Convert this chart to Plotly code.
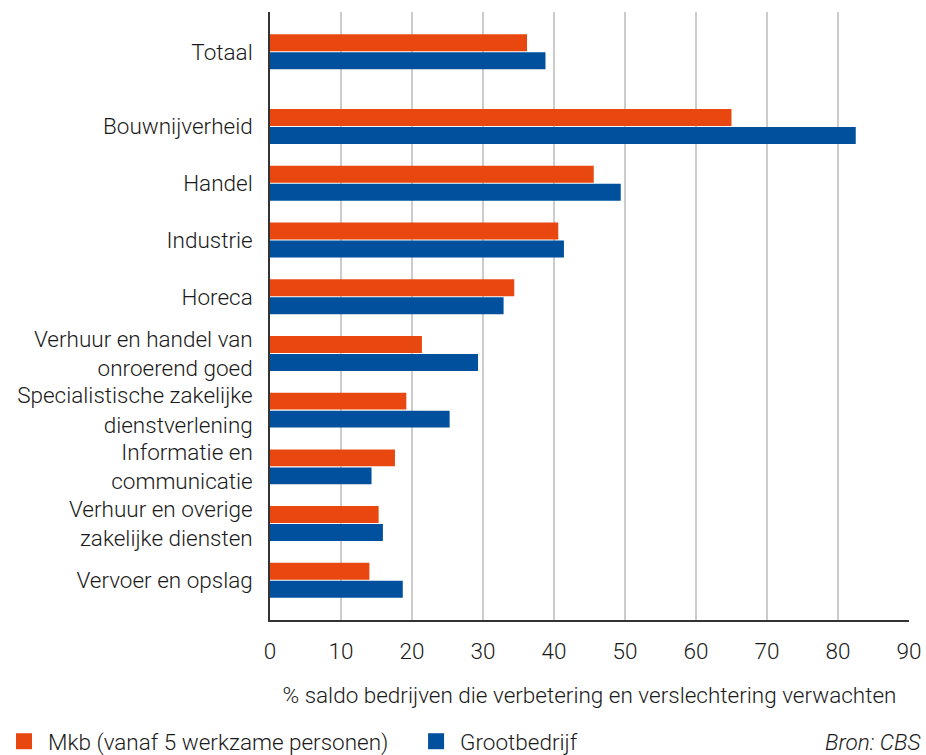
import plotly.graph_objects as go

categories = [
    "Totaal",
    "Bouwnijverheid",
    "Handel",
    "Industrie",
    "Horeca",
    "Verhuur en handel van<br>onroerend goed",
    "Specialistische zakelijke<br>dienstverlening",
    "Informatie en<br>communicatie",
    "Verhuur en overige<br>zakelijke diensten",
    "Vervoer en opslag",
]
mkb = [36.2, 65.0, 45.6, 40.6, 34.4, 21.4, 19.2, 17.6, 15.3, 14.0]
groot = [38.8, 82.5, 49.4, 41.4, 32.9, 29.3, 25.3, 14.3, 15.9, 18.7]
x_ticks = [0, 10, 20, 30, 40, 50, 60, 70, 80, 90]
series_names = ["Mkb (vanaf 5 werkzame personen)", "Grootbedrijf"]

# layout: Totaal separated from the sectors by an extra gap
positions = [0] + [1.32 + i for i in range(len(categories) - 1)]

ORANGE = "#E8480F"
BLUE = "#00509E"
FONT = "Roboto"
FS = 22.5

fig = go.Figure()
fig.add_trace(go.Bar(y=positions, x=mkb, orientation="h", name=series_names[0],
                     marker=dict(color=ORANGE, line=dict(width=0)), showlegend=False))
fig.add_trace(go.Bar(y=positions, x=groot, orientation="h", name=series_names[1],
                     marker=dict(color=BLUE, line=dict(width=0)), showlegend=False))
# legend entries with larger square symbols
fig.add_trace(go.Scatter(x=[None], y=[None], mode="markers", name=series_names[0], legend="legend",
                         marker=dict(symbol="square", size=16, color=ORANGE, line=dict(width=0))))
fig.add_trace(go.Scatter(x=[None], y=[None], mode="markers", name=series_names[1], legend="legend2",
                         marker=dict(symbol="square", size=16, color=BLUE, line=dict(width=0))))

legend_common = dict(orientation="h", xref="container", yref="paper", y=-0.2,
                     xanchor="left", yanchor="middle", font=dict(size=FS, family=FONT, weight=300),
                     itemclick=False, itemdoubleclick=False, itemwidth=38, bgcolor="rgba(0,0,0,0)")

fig.update_layout(
    width=926, height=755,
    margin=dict(l=270, r=17, t=12, b=135, autoexpand=False),
    paper_bgcolor="white", plot_bgcolor="white",
    font=dict(family=FONT, size=FS, color="#1a1a1a", weight=300),
    barmode="group", bargap=0.365, bargroupgap=0.06,
    showlegend=True,
    legend=dict(x=0.0, **legend_common),
    legend2=dict(x=0.445, **legend_common),
    annotations=[dict(text="<i>Bron: CBS</i>", xref="paper", yref="paper", x=1.02, y=-0.2,
                      xanchor="right", yanchor="middle", showarrow=False,
                      font=dict(size=FS, family=FONT, weight=300))],
)
fig.update_xaxes(range=[0, 90], tickvals=x_ticks, ticks="", showgrid=True, gridcolor="#CCCCCC",
                 gridwidth=1.5, showline=True, linecolor="#333333", linewidth=1.5, zeroline=False,
                 ticklabelstandoff=10, automargin=False,
                 title=dict(text="% saldo bedrijven die verbetering en verslechtering verwachten",
                            standoff=24, font=dict(size=FS)))
fig.update_yaxes(range=[10.02, -0.7], tickvals=positions, ticktext=categories, ticks="",
                 showgrid=False, showline=True, linecolor="#333333", linewidth=1.5, zeroline=False,
                 ticklabelstandoff=11, automargin=False)

fig.write_html("out.html", config={"displayModeBar": False},
               post_script="document.body.style.margin='0';")
